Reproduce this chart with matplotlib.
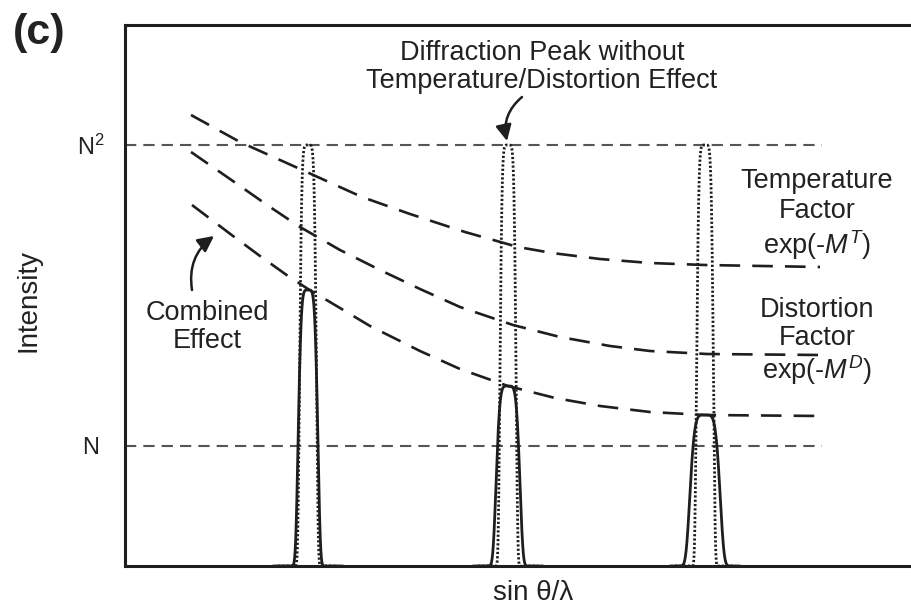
import numpy as np
import matplotlib
matplotlib.use('Agg')
import matplotlib.pyplot as plt

plt.rcParams['font.family'] = ['Liberation Sans', 'DejaVu Sans']
plt.rcParams['mathtext.fontset'] = 'custom'
plt.rcParams['mathtext.rm'] = 'Liberation Sans'
plt.rcParams['mathtext.it'] = 'Liberation Sans:italic'
plt.rcParams['mathtext.bf'] = 'Liberation Sans:bold'

# ---------------- data (arbitrary schematic units) ----------------
level_labels = ['N', r'N$^2$']
level_values = [1.20, 4.21]

peak_centers = [1.83, 3.83, 5.80]
ideal_heights = [4.21, 4.21, 4.21]
ideal_widths = [0.088, 0.084, 0.088]
combined_heights = [2.76, 1.80, 1.51]
combined_widths = [0.104, 0.126, 0.16]

temp_x = [0.66, 1.15, 1.75, 2.37, 2.85, 3.40, 3.93, 4.27, 4.75, 5.25, 5.80, 6.95]
temp_y = [4.51, 4.24, 3.97, 3.69, 3.52, 3.34, 3.19, 3.13, 3.07, 3.03, 3.01, 2.99]

dist_x = [0.66, 1.05, 1.45, 1.75, 2.15, 2.55, 2.95, 3.35, 3.88, 4.35, 4.85, 5.25, 5.82, 6.95]
dist_y = [4.14, 3.87, 3.59, 3.39, 3.16, 2.96, 2.77, 2.59, 2.41, 2.29, 2.20, 2.15, 2.12, 2.11]

comb_x = [0.67, 1.08, 1.35, 1.63, 1.83, 2.15, 2.45, 2.95, 3.35, 3.83, 4.30, 4.75, 5.25, 5.80, 6.97]
comb_y = [3.61, 3.30, 3.10, 2.90, 2.77, 2.58, 2.40, 2.15, 1.97, 1.80, 1.68, 1.60, 1.54, 1.51, 1.50]

level_line_end = 6.97

# ---------------- figure ----------------
W, H = 911, 607
fig = plt.figure(figsize=(W / 100, H / 100), dpi=100)
ax = fig.add_axes([125 / W, 41 / H, 786 / W, 541 / H])
ax.set_xlim(0, 7.86)
ax.set_ylim(0, 5.41)

ink = '#1e1e1e'
txt = '#222222'

for s in ['left', 'top', 'bottom']:
    ax.spines[s].set_linewidth(2.2)
    ax.spines[s].set_color(ink)
ax.spines['right'].set_visible(False)

# horizontal reference levels
for v in level_values:
    ax.plot([0, level_line_end], [v, v], color='#555555', lw=1.5,
            linestyle=(0, (5.4, 3.4)), zorder=2)


def profile(x, c, h, w, p=5.0):
    return h * np.exp(-np.abs((x - c) / w) ** p)


# peaks
for c, h, w in zip(peak_centers, combined_heights, combined_widths):
    xx = np.linspace(c - 0.35, c + 0.35, 600)
    ax.plot(xx, profile(xx, c, h, w), color=ink, lw=2.0, zorder=3,
            solid_capstyle='round')
for c, h, w in zip(peak_centers, ideal_heights, ideal_widths):
    xx = np.linspace(c - 0.3, c + 0.3, 600)
    ax.plot(xx, profile(xx, c, h, w, 6.0), color=ink, lw=2.0,
            linestyle=(0, (0.8, 0.75)), zorder=4)

# decay curves
for xs, ys in [(temp_x, temp_y), (dist_x, dist_y), (comb_x, comb_y)]:
    ax.plot(xs, ys, color=ink, lw=1.9, linestyle=(0, (7.8, 4.6)), zorder=3)

# ticks / labels
ax.set_xticks([])
ax.set_yticks(level_values)
ax.set_yticklabels(level_labels, fontsize=17, color=txt)
ax.tick_params(axis='y', length=0, pad=24.5)
for lbl in ax.get_yticklabels():
    lbl.set_ha('center')

ax.set_xlabel('sin θ/λ', fontsize=20, color=txt)
ax.xaxis.set_label_coords((533 - 125) / 786, (566 - 580) / 541)
ax.set_ylabel('Intensity', fontsize=20, color=txt)
ax.yaxis.label.set_va('center')
ax.yaxis.set_label_coords((28 - 125) / 786, (566 - 301) / 541)

fs = 19.5
ax.text(4.17, 4.99, 'Diffraction Peak without\nTemperature/Distortion Effect',
        ha='center', va='center', fontsize=fs, color=txt, linespacing=1.13)
ax.annotate('', xy=(3.82, 4.25), xytext=(3.97, 4.69),
            arrowprops=dict(arrowstyle='-|>', connectionstyle='arc3,rad=0.3',
                            lw=1.8, color=ink, mutation_scale=24,
                            shrinkA=0, shrinkB=0))

ax.text(6.92, 3.51, 'Temperature\nFactor\nexp(-$M^T$)', ha='center', va='center',
        fontsize=fs, color=txt, linespacing=1.2)
ax.text(6.92, 2.24, 'Distortion\nFactor\nexp(-$M^D$)', ha='center', va='center',
        fontsize=fs, color=txt, linespacing=1.1)

ax.text(0.82, 2.39, 'Combined\nEffect', ha='center', va='center',
        fontsize=fs, color=txt, linespacing=1.13)
ax.annotate('', xy=(0.89, 3.30), xytext=(0.67, 2.76),
            arrowprops=dict(arrowstyle='-|>', connectionstyle='arc3,rad=-0.3',
                            lw=1.8, color=ink, mutation_scale=24,
                            shrinkA=0, shrinkB=0))

fig.text(13 / W, 1 - 33 / H, '(c)', ha='left', va='center', fontsize=31,
         fontweight='bold', color=txt)

fig.savefig('out.png', dpi=100)
